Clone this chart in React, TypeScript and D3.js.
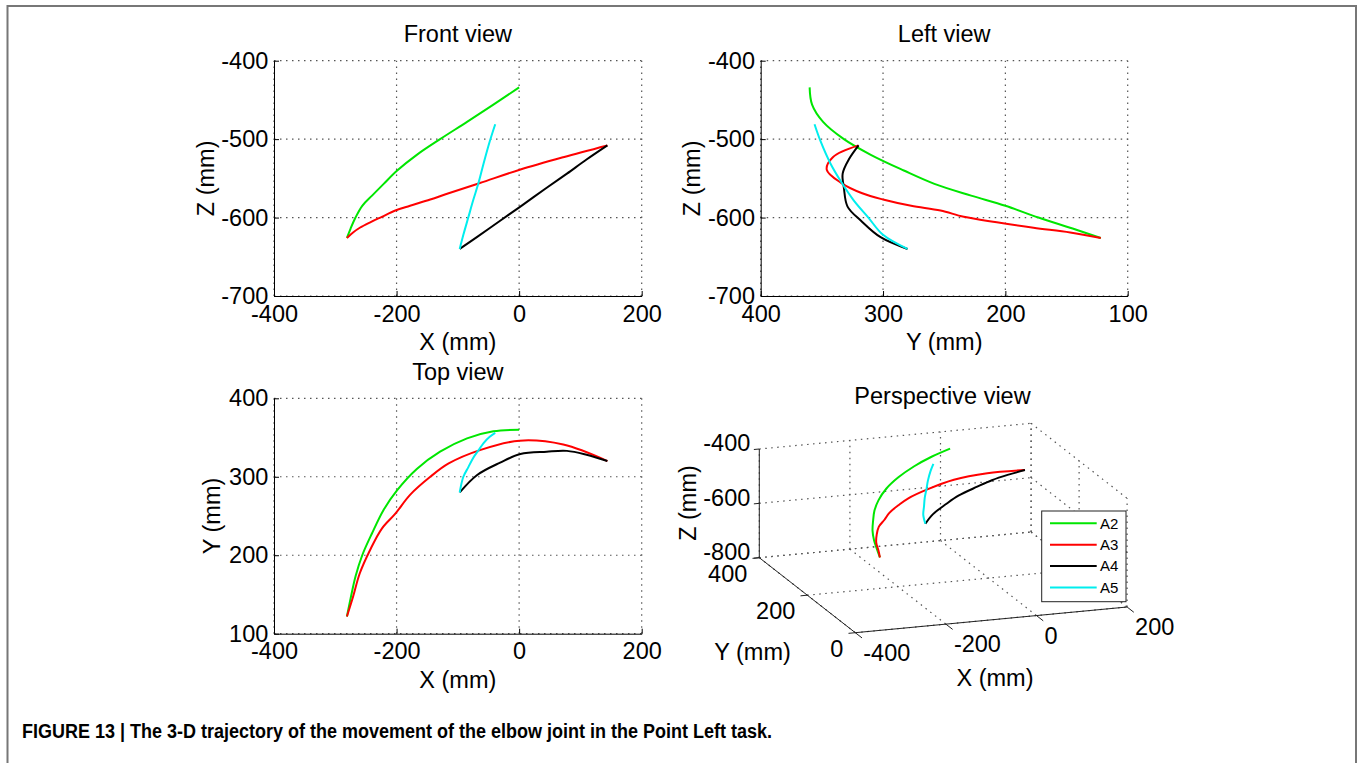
import React, { useEffect, useRef } from "react";
import * as d3 from "d3";

const width = 1360;
const height = 763;
const font = "Liberation Sans, Arial, sans-serif";
const fontSize = 23.5;
const gridColor = "#555";

const seriesNames = ["A2", "A3", "A4", "A5"];
const seriesColors = ["#00e600", "#ff0000", "#000000", "#00eeee"];

// elbow trajectory samples, [X, Y, Z] in mm
const a2 = [
  [-281, 122, -626], [-275, 145, -614], [-267, 173, -600], [-256, 200, -585],
  [-240, 228, -572], [-221, 258, -557], [-199, 283, -540], [-167, 310, -520],
  [-129, 332, -500], [-85, 349, -478], [-42, 358, -456], [0, 360, -434],
];
const a3 = [
  [-281, 122, -626], [-271, 147, -619], [-260, 177, -613], [-243, 207, -606],
  [-224, 234, -599], [-202, 253, -591], [-178, 277, -585], [-145, 300, -577],
  [-115, 317, -569], [-64, 334, -556], [1, 346, -539], [72, 341, -523],
  [144, 320, -508],
];
const a4 = [
  [-97, 280, -640], [-69, 302, -625], [-31, 318, -604], [2, 329, -586],
  [45, 332, -562], [78, 333, -544], [110, 328, -526], [144, 320, -508],
];
const a5 = [
  [-97, 280, -640], [-91, 300, -622], [-83, 312, -600], [-75, 324, -578],
  [-66, 334, -555], [-58, 343, -531], [-48, 351, -503], [-39, 356, -481],
];
const trajectories = [a2, a3, a4, a5];

const xTicks = [-400, -200, 0, 200];
const zTicks = [-700, -600, -500, -400];
const yTicksLeft = [400, 300, 200, 100];
const yTicksTop = [100, 200, 300, 400];
const px3Ticks = [-400, -200, 0, 200];
const py3Ticks = [0, 200, 400];
const pz3Ticks = [-800, -600, -400];

const caption =
  "FIGURE 13 | The 3-D trajectory of the movement of the elbow joint in the Point Left task.";

const plain = (d) => `${d}`; // hyphen minus, like the figure

const drawPanel = (svg, o) => {
  const g = svg.append("g");
  const [xa, xb] = o.x.range();
  const [yb, ya] = o.y.range();

  // dotted grid
  g.append("g")
    .selectAll("line")
    .data(o.xTicks)
    .join("line")
    .attr("x1", (d) => o.x(d)).attr("x2", (d) => o.x(d))
    .attr("y1", yb).attr("y2", ya);
  g.append("g")
    .selectAll("line")
    .data(o.yTicks)
    .join("line")
    .attr("y1", (d) => o.y(d)).attr("y2", (d) => o.y(d))
    .attr("x1", xa).attr("x2", xb);
  g.selectAll("line")
    .attr("stroke", gridColor)
    .attr("stroke-width", 1.2)
    .attr("stroke-dasharray", "1.5,4.5");

  const xAxis = d3.axisBottom(o.x).tickValues(o.xTicks).tickFormat(plain)
    .tickSizeInner(-5).tickSizeOuter(0).tickPadding(9);
  g.append("g")
    .attr("transform", `translate(0, ${yb})`)
    .call(xAxis)
    .attr("font-size", fontSize).attr("font-family", font).attr("color", "#000");

  const yAxis = d3.axisLeft(o.y).tickValues(o.yTicks).tickFormat(plain)
    .tickSizeInner(-5).tickSizeOuter(0).tickPadding(5.7);
  g.append("g")
    .attr("transform", `translate(${xa}, 0)`)
    .call(yAxis)
    .attr("font-size", fontSize).attr("font-family", font).attr("color", "#000");

  const line = d3
    .line()
    .x((d) => o.x(d[o.ix]))
    .y((d) => o.y(d[o.iy]))
    .curve(d3.curveCatmullRom);
  g.append("g")
    .selectAll("path")
    .data(trajectories)
    .join("path")
    .attr("d", (d) => line(d))
    .attr("fill", "none")
    .attr("stroke", (d, i) => seriesColors[i])
    .attr("stroke-width", 2)
    .attr("stroke-linejoin", "round");

  const cx = (xa + xb) / 2;
  g.append("text").attr("x", cx).attr("y", ya - 27).attr("dy", "0.35em")
    .attr("text-anchor", "middle").text(o.title);
  g.append("text").attr("x", cx).attr("y", yb + 46).attr("dy", "0.35em")
    .attr("text-anchor", "middle").text(o.xLabel);
  g.append("text")
    .attr("transform", `translate(${o.yLabelX}, ${(ya + yb) / 2}) rotate(-90)`)
    .attr("dy", "0.35em").attr("text-anchor", "middle").text(o.yLabel);
  g.selectAll(":scope > text").attr("font-size", fontSize).attr("font-family", font);
};

const drawPerspective = (svg) => {
  const g = svg.append("g");
  const origin = [759.3, 557.7];
  const tx = d3.scaleLinear().domain([-400, 200]).range([0, 1]);
  const ty = d3.scaleLinear().domain([400, 0]).range([0, 1]);
  const tz = d3.scaleLinear().domain([-800, -400]).range([0, 1]);
  const ex = [271.8, -25.7];
  const ey = [96, 75];
  const ez = [0, -108.7];
  const proj = ([x, y, z]) => [
    origin[0] + tx(x) * ex[0] + ty(y) * ey[0] + tz(z) * ez[0],
    origin[1] + tx(x) * ex[1] + ty(y) * ey[1] + tz(z) * ez[1],
  ];

  const grid = [];
  px3Ticks.forEach((x) => {
    grid.push([[x, 400, -800], [x, 400, -400]]);
    grid.push([[x, 400, -800], [x, 0, -800]]);
  });
  py3Ticks.forEach((y) => {
    grid.push([[200, y, -800], [200, y, -400]]);
    grid.push([[-400, y, -800], [200, y, -800]]);
  });
  pz3Ticks.forEach((z) => {
    grid.push([[-400, 400, z], [200, 400, z]]);
    grid.push([[200, 400, z], [200, 0, z]]);
  });
  g.append("g")
    .selectAll("line")
    .data(grid)
    .join("line")
    .attr("x1", (d) => proj(d[0])[0]).attr("y1", (d) => proj(d[0])[1])
    .attr("x2", (d) => proj(d[1])[0]).attr("y2", (d) => proj(d[1])[1])
    .attr("stroke", gridColor)
    .attr("stroke-width", 1.2)
    .attr("stroke-dasharray", "1.5,4.5");

  const axes = [
    [[-400, 400, -800], [-400, 400, -400]],
    [[-400, 400, -800], [-400, 0, -800]],
    [[-400, 0, -800], [200, 0, -800]],
  ];
  px3Ticks.forEach((x) => axes.push([[x, 0, -800], [x, -28, -800]]));
  py3Ticks.forEach((y) => axes.push([[-400, y, -800], [-415, y, -800]]));
  pz3Ticks.forEach((z) => axes.push([[-400, 400, z], [-412, 400, z]]));
  g.append("g")
    .selectAll("line")
    .data(axes)
    .join("line")
    .attr("x1", (d) => proj(d[0])[0]).attr("y1", (d) => proj(d[0])[1])
    .attr("x2", (d) => proj(d[1])[0]).attr("y2", (d) => proj(d[1])[1])
    .attr("stroke", "#222")
    .attr("stroke-width", 1);

  const line = d3.line().x((d) => proj(d)[0]).y((d) => proj(d)[1]).curve(d3.curveCatmullRom);
  g.append("g")
    .selectAll("path")
    .data(trajectories)
    .join("path")
    .attr("d", (d) => line(d))
    .attr("fill", "none")
    .attr("stroke", (d, i) => seriesColors[i])
    .attr("stroke-width", 2);

  const labels = g.append("g").attr("font-size", fontSize).attr("font-family", font);
  labels.selectAll(".zt").data(pz3Ticks).join("text")
    .attr("x", (d) => proj([-400, 400, d])[0] - 9)
    .attr("y", (d) => proj([-400, 400, d])[1] - 6)
    .attr("dy", "0.35em").attr("text-anchor", "end").text(plain);
  labels.selectAll(".yt").data(py3Ticks).join("text")
    .attr("x", (d) => proj([-400, d, -800])[0] - 12)
    .attr("y", (d) => proj([-400, d, -800])[1] + 16)
    .attr("dy", "0.35em").attr("text-anchor", "end").text(plain);
  labels.selectAll(".xt").data(px3Ticks).join("text")
    .attr("x", (d) => proj([d, 0, -800])[0] + 8)
    .attr("y", (d) => proj([d, 0, -800])[1] + 20)
    .attr("dy", "0.35em").attr("text-anchor", "start").text(plain);

  labels.append("text").attr("x", 942.5).attr("y", 395.5).attr("dy", "0.35em")
    .attr("text-anchor", "middle").text("Perspective view");
  labels.append("text").attr("x", 995).attr("y", 678).attr("dy", "0.35em")
    .attr("text-anchor", "middle").text("X (mm)");
  labels.append("text").attr("x", 752.5).attr("y", 652).attr("dy", "0.35em")
    .attr("text-anchor", "middle").text("Y (mm)");
  labels.append("text").attr("transform", "translate(688, 503) rotate(-90)")
    .attr("dy", "0.35em").attr("text-anchor", "middle").text("Z (mm)");

  // legend
  const lg = g.append("g");
  lg.append("rect").attr("x", 1041.7).attr("y", 511).attr("width", 84.3).attr("height", 90.7)
    .attr("fill", "#fff").attr("stroke", "#222").attr("stroke-width", 1);
  const rows = lg.selectAll("g").data(seriesNames).join("g")
    .attr("transform", (d, i) => `translate(0, ${523.3 + i * 21.4})`);
  rows.append("line").attr("x1", 1050).attr("x2", 1096.7)
    .attr("stroke", (d, i) => seriesColors[i]).attr("stroke-width", 2);
  rows.append("text").attr("x", 1100).attr("dy", "0.35em")
    .attr("font-size", 15).attr("font-family", font).text((d) => d);
};

const App = () => {
  const ref = useRef(null);

  useEffect(() => {
    const svg = d3.select(ref.current);
    svg.selectAll("*").remove();

    svg.append("rect").attr("width", width).attr("height", height).attr("fill", "#fff");
    svg.append("rect").attr("x", 7.5).attr("y", 6).attr("width", 1348.5).attr("height", 800)
      .attr("fill", "none").attr("stroke", "#777").attr("stroke-width", 2);

    const xFront = d3.scaleLinear().domain([-400, 200]).range([274, 641.7]);
    const zRow1 = d3.scaleLinear().domain([-700, -400]).range([296, 60.7]);
    const yLeft = d3.scaleLinear().domain([400, 100]).range([760.7, 1127.7]);
    const yTop = d3.scaleLinear().domain([100, 400]).range([633.7, 398.3]);

    drawPanel(svg, {
      x: xFront, y: zRow1, xTicks, yTicks: zTicks, ix: 0, iy: 2,
      title: "Front view", xLabel: "X (mm)", yLabel: "Z (mm)", yLabelX: 206,
    });
    drawPanel(svg, {
      x: yLeft, y: zRow1, xTicks: yTicksLeft, yTicks: zTicks, ix: 1, iy: 2,
      title: "Left view", xLabel: "Y (mm)", yLabel: "Z (mm)", yLabelX: 692,
    });
    drawPanel(svg, {
      x: xFront, y: yTop, xTicks, yTicks: yTicksTop, ix: 0, iy: 1,
      title: "Top view", xLabel: "X (mm)", yLabel: "Y (mm)", yLabelX: 212,
    });
    drawPerspective(svg);

    svg.append("text").attr("x", 22).attr("y", 738)
      .attr("font-family", "Liberation Sans Narrow, Liberation Sans, Arial, sans-serif")
      .attr("font-weight", "bold").attr("font-size", 20)
      .attr("textLength", 750).attr("lengthAdjust", "spacingAndGlyphs")
      .text(caption);
  }, []);

  return (
    <div>
      <svg
        ref={ref}
        width={width}
        height={height}
        style={{ position: "absolute", left: 0, top: 0 }}
      />
    </div>
  );
};

export default App;
